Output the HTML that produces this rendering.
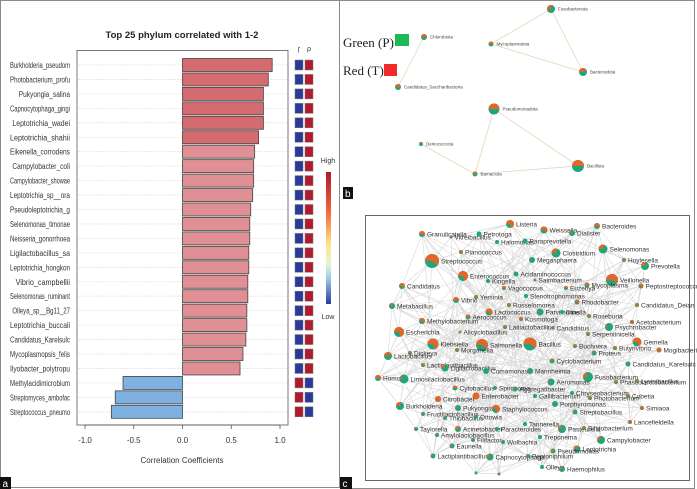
<!DOCTYPE html>
<html><head><meta charset="utf-8">
<style>
html,body{margin:0;padding:0;background:#fff;}
svg{display:block;font-family:"Liberation Sans",sans-serif;}
</style></head>
<body>
<svg id="root" width="697" height="489" viewBox="0 0 697 489" xmlns="http://www.w3.org/2000/svg">
  <g fill="none" stroke="#8a8a8a" stroke-width="1">
    <path d="M0.5,489 V0.5 H339.5 V487.5 H11"/>
    <path d="M340,0.5 H694.5 V207"/>
    <path d="M694.5,207 V488.5 H352"/>
  </g>
  <g id="panelA"></g>
  <g id="panelB"></g>
  <g id="panelC"></g>
  <rect x="0" y="477" width="11" height="12" fill="#111"/>
  <text x="2.5" y="487" font-size="10" fill="#fff">a</text>
  <rect x="343" y="187" width="10" height="12" fill="#111"/>
  <text x="345" y="197" font-size="10" fill="#fff">b</text>
  <rect x="340" y="477" width="12" height="12" fill="#111"/>
  <text x="342.5" y="487" font-size="10" fill="#fff">c</text>
</svg>
<script>
const NS="http://www.w3.org/2000/svg";
const taxa=["Burkholderia_pseudom","Photobacterium_profu","Pukyongia_salina","Capnocytophaga_gingi","Leptotrichia_wadei","Leptotrichia_shahii","Eikenella_corrodens","Campylobacter_coli","Campylobacter_showae","Leptotrichia_sp__ora","Pseudoleptotrichia_g","Selenomonas_timonae","Neisseria_gonorrhoea","Ligilactobacillus_sa","Leptotrichia_hongkon","Vibrio_campbellii","Selenomonas_ruminant","Olleya_sp__Bg11_27","Leptotrichia_buccali","Candidatus_Karelsulc","Mycoplasmopsis_felis","Ilyobacter_polytropu","Methylacidimicrobium","Streptomyces_ambofac","Streptococcus_pneumo"];
const corr=[0.92,0.88,0.83,0.83,0.83,0.78,0.74,0.73,0.73,0.72,0.70,0.69,0.69,0.68,0.68,0.67,0.67,0.66,0.66,0.65,0.62,0.59,-0.61,-0.69,-0.73];
const strong=[1,1,1,1,1,1,0,0,0,0,0,0,0,0,0,0,0,0,0,0,0,0,0,0,0];
const xTicks=[-1.0,-0.5,0.0,0.5,1.0];
const xTickLabels=["-1.0","-0.5","0.0","0.5","1.0"];

function el(tag,attrs,parent){const e=document.createElementNS(NS,tag);for(const k in attrs)e.setAttribute(k,attrs[k]);parent.appendChild(e);return e;}
const A=document.getElementById('panelA');
const xS=v=>182.5+v*97.5;
const yS=i=>65+i*14.45;
const bh=13;
let t=el('text',{x:182,y:38,'font-size':9.5,'font-weight':'bold','text-anchor':'middle',fill:'#222'},A);
t.textContent="Top 25 phylum correlated with 1-2";


let fr=el('rect',{x:77,y:50.5,width:211,height:374.5,fill:'none',stroke:'#777','stroke-width':1},A);


taxa.forEach((n,i)=>{
  const y=yS(i);
  const g=el('line',{x1:78,x2:287,y1:y,y2:y,stroke:'#e4e4e4','stroke-dasharray':'2,1','stroke-width':0.8},A);
  
  
  const v=corr[i];
  const x0=Math.min(xS(0),xS(v)),w=Math.abs(xS(v)-xS(0));
  const col=v<0?'#7fb1e0':(strong[i]?'#d46b70':'#e08f94');
  const b=el('rect',{x:x0,y:y-bh/2,width:w,height:bh,fill:col,stroke:'#444','stroke-width':0.8},A);
  
  
  const lb=el('text',{x:70,y:y+3,'font-size':8,'text-anchor':'end',fill:'#333',textLength:Math.min(60,n.length*3.2),lengthAdjust:'spacingAndGlyphs'},A);
  lb.textContent=n;
  
  
  const c1=v<0?'#b01c2e':'#2b3a9a',c2=v<0?'#2b3a9a':'#b01c2e';
  const s1=el('rect',{x:295,y:y-5,width:8,height:10,fill:c1,stroke:'#777','stroke-width':0.5},A);
  
  
  const s2=el('rect',{x:305,y:y-5,width:8,height:10,fill:c2,stroke:'#777','stroke-width':0.5},A);
  
  
});
xTicks.forEach((v,i)=>{
  const tk=el('line',{x1:xS(v),x2:xS(v),y1:425,y2:429,stroke:'#555','stroke-width':0.8},A);
  
  
  const tl=el('text',{x:xS(v),y:443,'font-size':8,'text-anchor':'middle',fill:'#333'},A);
  tl.textContent=xTickLabels[i];
  
  
});
el('line',{x1:xS(-1),x2:xS(1),y1:425,y2:425,stroke:'#555','stroke-width':0.8},A);
t=el('text',{x:182,y:463,'font-size':8,'text-anchor':'middle',fill:'#333'},A);
t.textContent="Correlation Coefficients";


t=el('text',{x:299,y:51,'font-size':7,'text-anchor':'middle',fill:'#333'},A);t.textContent="ɼ";


t=el('text',{x:309,y:51,'font-size':7,'text-anchor':'middle',fill:'#333'},A);t.textContent="ρ";


const defs=el('defs',{},A);
const lg=el('linearGradient',{id:'cb',x1:0,y1:0,x2:0,y2:1},defs);
[['0','#b2182b'],['0.3','#ef6a3a'],['0.55','#fde58a'],['0.7','#e8f3d8'],['0.8','#9ccfe8'],['1','#2a3b9e']].forEach(s=>el('stop',{offset:s[0],'stop-color':s[1]},lg));
const cb=el('rect',{x:326,y:172,width:5,height:132,fill:'url(#cb)'},A);


t=el('text',{x:328,y:163,'font-size':7,'text-anchor':'middle',fill:'#333'},A);t.textContent="High";


t=el('text',{x:328,y:319,'font-size':7,'text-anchor':'middle',fill:'#333'},A);t.textContent="Low";



const OR='#e0662a',GR='#1fa57a';
function pie(parent,x,y,r,frac){
  const g=el('g',{},parent);
  el('circle',{cx:x,cy:y,r:r,fill:GR},g);
  if(frac>0.01){
    if(frac>=0.99){el('circle',{cx:x,cy:y,r:r,fill:OR},g);}
    else{
      const a0=Math.PI,a1=Math.PI+frac*2*Math.PI;
      const p=`M${x},${y} L${x+r*Math.cos(a0)},${y+r*Math.sin(a0)} A${r},${r} 0 ${frac>0.5?1:0} 1 ${x+r*Math.cos(a1)},${y+r*Math.sin(a1)} Z`;
      el('path',{d:p,fill:OR},g);
    }
  }
  return g;
}
const B=document.getElementById('panelB');
const bNodes=[["Fusobacteriota",551,9,4,0.3],["Chlorobiota",424,37,3,0.5],["Mycoplasmatota",491,44,2.5,0.5],["Bacteroidota",583,72,4,0.4],["Candidatus_Saccharibacteria",398,87,3,0.5],["Pseudomonadota",494,109,5.5,0.5],["Deinococcota",421,144,2,0.3],["Bacillota",578,166,6,0.5],["Bamaciota",475,174,2.5,0.4]];
const bEdges=[[0,2],[0,3],[2,3],[1,4],[5,8],[5,7],[8,7],[6,8]];
bEdges.forEach(e=>{const a=bNodes[e[0]],b=bNodes[e[1]];
  const l=el('line',{x1:a[1],y1:a[2],x2:b[1],y2:b[2],stroke:'#e6d6b8','stroke-width':0.8},B);
  
  });
bNodes.forEach(n=>{const g=pie(B,n[1],n[2],n[3],n[4]);
  
  
  const tx=el('text',{x:n[1]+n[3]+3,y:n[2]+1.5,'font-size':4.5,fill:'#444'},B);tx.textContent=n[0];});
t=el('text',{x:343,y:47,'font-size':13,'font-family':'"Liberation Serif",serif',fill:'#222'},B);t.textContent="Green (P)";


let r=el('rect',{x:395,y:34,width:14,height:12,fill:'#1db954'},B);


t=el('text',{x:343,y:75,'font-size':13,'font-family':'"Liberation Serif",serif',fill:'#222'},B);t.textContent="Red (T)";


r=el('rect',{x:384,y:64,width:13,height:12,fill:'#ee2a2a'},B);



const C=document.getElementById('panelC');
const cb2=el('rect',{x:365.5,y:215.5,width:324,height:265,fill:'#fff',stroke:'#666','stroke-width':1},C);


const cNodes=[["Listeria",510,224,4,.7],["Weissella",544,230,3.5,.6],["Dialister",572,233,3,.2],["Bacteroides",597,226,3,.6],["Granulicatella",422,234,3,.6],["Vitreibacillus",451,237,1.5,.5],["Petrotoga",479,234,2.5,0],["Halomonas",497,242,2,0],["Paraprevotella",525,241,2.5,0],["Selenomonas",603,249,4.5,.3],["Clostridium",556,253,4.5,.3],["Hoylesella",624,260,2,.6],["Prevotella",645,266,4,.3],["Streptococcus",432,261,7,.6],["Planococcus",461,252,2,.7],["Megasphaera",532,260,3,.1],["Enterococcus",463,276,5,.7],["Acidaminococcus",516,274,2.5,0],["Veillonella",612,280,6,.6],["Kingella",488,281,2,0],["Saimbacterium",535,280,1.5,.5],["Peptostreptococcus",641,286,2.5,.7],["Candidatus",402,286,3,.6],["Vagococcus",504,288,2,.7],["Euzebya",566,288,2,.6],["Mycoplasma",587,285,2.5,.6],["Metabacillus",392,306,3,.2],["Vibrio",456,300,3,.6],["Yersinia",476,297,2,.6],["Stenotrophomonas",526,296,2,0],["Rosselomorea",509,305,2,.6],["Rhodobacter",577,302,2.5,.6],["Candidatus_Deian",637,305,2,.7],["Lactococcus",489,312,3.5,.7],["Parvimonas",540,312,3.5,.1],["Dinella",562,312,2,0],["Roseburia",589,316,2,.6],["Aerococcus",468,317,2.5,.5],["Kosmotoga",521,319,2,.7],["Methylobacterium",422,321,3,.6],["Acetobacterium",632,322,2,.7],["Escherichia",399,332,5,.7],["Alicyclobacillus",460,332,1.5,.7],["Latilactobacillus",505,327,2,.5],["Candidatus2",553,328,1.5,.5],["Psychrobacter",609,327,4,.1],["Serpentinicella",588,334,2,.6],["Klebsiella",433,344,5.5,.7],["Salmonella",482,345,6,.6],["Bacillus",530,344,6.5,.6],["Gemella",637,342,4.5,.7],["Morganella",457,350,2,.6],["Dickeya",410,353,2,.6],["Buchnera",575,346,2,.6],["Butyrivibrio",615,348,2,.6],["Mogibacterium",659,350,2.5,.9],["Lactobacillus",388,356,4,.4],["Proteus",594,353,2.5,.3],["Cyclobacterium",552,361,2.5,.3],["Lactiplantibacillus",423,365,2,.6],["Ligilactobacillus",445,368,3.5,.2],["Candidatus_Karelsulc",628,364,2.5,.1],["Comamonas",486,371,3,0],["Mannheimia",530,371,3,.1],["Fusobacterium",588,377,5,.2],["Homo",378,378,3,.6],["Limosilactobacillus",404,379,4.5,.1],["Aeromonas",551,382,3.5,.1],["Phascolarctobacterium",616,382,2,.6],["Lysinibacillus",637,381,2,.6],["Cytobacillus",455,388,2.5,.5],["Spirosoma",495,388,2,0],["Aggregatibacter",515,389,2.5,.2],["Chryseobacterium",572,393,2,0],["Citrobacter",438,399,3,1],["Enterobacter",476,396,3.5,1],["Gallibacterium",535,396,2,0],["Photobacterium",590,398,2,.6],["Cobetia",628,396,2,.6],["Burkholderia",400,406,4,.3],["Pukyongia",458,408,3,.1],["Staphylococcus",496,409,4,.7],["Porphyromonas",555,404,3,.1],["Simiaoa",642,408,2,.7],["Fructilactobacillus",423,414,2,.2],["Thiobacillus",445,418,2,.2],["Ottowia",476,417,2,0],["Streptobacillus",575,412,2.5,.2],["Lancefieldella",630,422,2,.7],["Tannerella",525,424,2,0],["Taylorella",416,429,2,.3],["Acinetobacter",458,429,3,.4],["Paracteroides",497,429,2,0],["Pasteurella",562,429,4,.2],["Bifidobacterium",584,428,2,.6],["Amylolactobacillus",437,435,2,.2],["Treponema",540,437,2,0],["Campylobacter",601,440,4,.2],["Eaunella",452,446,2.5,.2],["Filifactor",473,440,2,.2],["Wolbachia",503,442,2,.2],["Leptotrichia",577,449,3.5,.3],["Pseudomonas",553,451,2.5,.3],["Lactiplantibacillus",433,456,2.5,.2],["Capnocytophaga",490,457,3.5,.2],["Peptoniphilum",528,456,2,.2],["Olleya",542,467,2,0],["Haemophilus",562,469,3,.2],["",476,473,1.5,.2],["",499,474,1.5,.5]];
const gE=el('g',{stroke:'#d9d9d9','stroke-width':0.6},C);


cNodes.forEach((a,i)=>{
  const d=cNodes.map((b,j)=>[j,(a[1]-b[1])**2+(a[2]-b[2])**2]).filter(x=>x[0]!==i).sort((p,q)=>p[1]-q[1]);
  for(let k=0;k<4;k++){const b=cNodes[d[k][0]];el('line',{x1:a[1],y1:a[2],x2:b[1],y2:b[2]},gE);}
  [7,13,23].forEach(s=>{const b=cNodes[(i*s+5)%cNodes.length];el('line',{x1:a[1],y1:a[2],x2:b[1],y2:b[2]},gE);});
});
cNodes.forEach(n=>{
  const g=pie(C,n[1],n[2],n[3],n[4]);
  
  
  if(n[0]){const tx=el('text',{x:n[1]+n[3]+2,y:n[2]+2.5,'font-size':6.5,fill:'#333'},C);tx.textContent=n[0].replace(/2$/,'');}
});
</script>
</body></html>
